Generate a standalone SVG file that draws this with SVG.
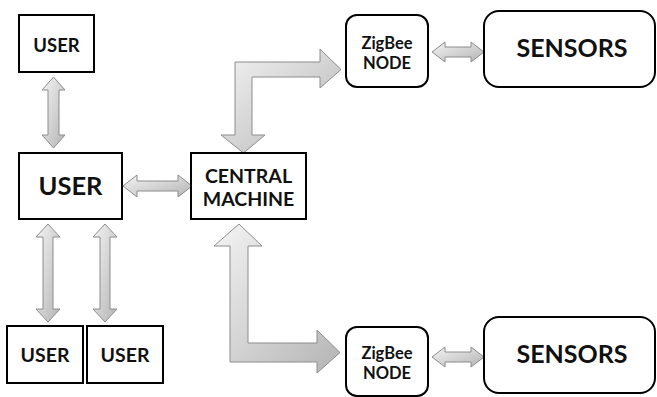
<svg xmlns="http://www.w3.org/2000/svg" width="657" height="397" viewBox="0 0 657 397">
<style>
.box{fill:#fff;stroke:#000;stroke-width:2}
.arr{fill:url(#g);stroke:#8c8c8c;stroke-width:1}
text{font-family:Lato,"Open Sans","Liberation Sans",sans-serif;font-weight:bold;fill:#111;text-anchor:middle}
</style>
<defs>
<linearGradient id="g" x1="0" y1="0" x2="1" y2="1">
<stop offset="0" stop-color="#f4f4f4"/>
<stop offset="1" stop-color="#b4b4b4"/>
</linearGradient>
</defs>
<rect width="657" height="397" fill="#fff"/>
<g id="connectors">
<path class="arr" d="M53.5,77 L65,90 L59,90 L59,135 L65,135 L53.5,148 L42,135 L48,135 L48,90 L42,90 Z"/>
<path class="arr" d="M123,186 L137,175 L137,181 L178,181 L178,175 L192,186 L178,197 L178,191 L137,191 L137,197 Z"/>
<path class="arr" d="M48,224 L60,237 L53,237 L53,309 L60,309 L48,322 L36,309 L43,309 L43,237 L36,237 Z"/>
<path class="arr" d="M105,224 L117,237 L110,237 L110,309 L117,309 L105,322 L93,309 L100,309 L100,237 L93,237 Z"/>
<path class="arr" d="M235,135 L235,62 L320,62 L320,49 L341,69.5 L320,88 L320,77 L252,77 L252,135 L265,135 L243.5,153 L221,135 Z"/>
<path class="arr" d="M239,224 L262,246 L248,246 L248,343 L317,343 L317,330 L340,352.5 L317,373 L317,362 L230,362 L230,246 L214,246 Z"/>
<path class="arr" d="M432,52 L445,42 L445,47 L471,47 L471,42 L484,52 L471,62 L471,57 L445,57 L445,62 Z"/>
<path class="arr" d="M432,357 L445,347 L445,352 L471,352 L471,347 L484,357 L471,367 L471,362 L445,362 L445,367 Z"/>
</g>
<g id="user-top"><rect class="box" x="19" y="15" width="75" height="57"/><text x="56.5" y="51.5" font-size="18.5">USER</text></g>
<g id="user-main"><rect class="box" x="19" y="153" width="103" height="66"/><text x="70.5" y="195" font-size="25.5">USER</text></g>
<g id="central"><rect class="box" x="191" y="153" width="115" height="66"/><text x="248.5" y="183" font-size="19.5">CENTRAL</text><text x="248.5" y="206" font-size="19.5">MACHINE</text></g>
<g id="user-bl"><rect class="box" x="7" y="326" width="76" height="57"/><text x="45" y="362" font-size="19.5">USER</text></g>
<g id="user-br"><rect class="box" x="87" y="326" width="76" height="57"/><text x="125" y="362" font-size="19.5">USER</text></g>
<g id="zigbee-top"><rect class="box" x="346" y="15" width="82" height="72" rx="11"/><text x="387" y="48.5" font-size="16.5">ZigBee</text><text x="387" y="68.5" font-size="16.5">NODE</text></g>
<g id="sensors-top"><rect class="box" x="484" y="11" width="171" height="76" rx="15"/><text x="572" y="57" font-size="25">SENSORS</text></g>
<g id="zigbee-bottom"><rect class="box" x="346" y="327" width="82" height="69" rx="11"/><text x="387" y="358.5" font-size="16.5">ZigBee</text><text x="387" y="378.5" font-size="16.5">NODE</text></g>
<g id="sensors-bottom"><rect class="box" x="484" y="317" width="171" height="76" rx="15"/><text x="572" y="363" font-size="25">SENSORS</text></g>
</svg>
